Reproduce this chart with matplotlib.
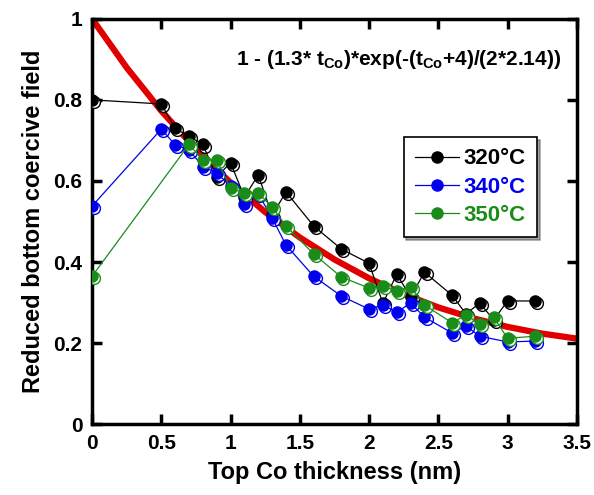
import matplotlib
matplotlib.use('Agg')
import matplotlib.pyplot as plt
from matplotlib.transforms import ScaledTranslation

plt.rcParams['font.family'] = ['Liberation Sans', 'DejaVu Sans']
plt.rcParams['font.weight'] = 'bold'
plt.rcParams['mathtext.fontset'] = 'custom'
plt.rcParams['mathtext.rm'] = 'Liberation Sans:bold'
plt.rcParams['mathtext.bf'] = 'Liberation Sans:bold'
plt.rcParams['mathtext.default'] = 'bf'

# data
t_320 = [0, 0.5, 0.6, 0.7, 0.8, 0.9, 1.0, 1.1, 1.2, 1.3, 1.4, 1.6, 1.8, 2.0, 2.1, 2.2, 2.3, 2.4, 2.6, 2.7, 2.8, 2.9, 3.0, 3.2]
h_320 = [0.80, 0.79, 0.73, 0.71, 0.69, 0.61, 0.645, 0.56, 0.615, 0.515, 0.573, 0.489, 0.432, 0.397, 0.298, 0.37, 0.314, 0.375, 0.318, 0.272, 0.299, 0.257, 0.304, 0.304]

t_340 = [0, 0.5, 0.6, 0.7, 0.8, 0.9, 1.0, 1.1, 1.2, 1.3, 1.4, 1.6, 1.8, 2.0, 2.1, 2.2, 2.3, 2.4, 2.6, 2.7, 2.8, 3.0, 3.2]
h_340 = [0.538, 0.728, 0.689, 0.677, 0.635, 0.62, 0.587, 0.544, 0.568, 0.509, 0.442, 0.365, 0.316, 0.284, 0.294, 0.276, 0.299, 0.264, 0.225, 0.242, 0.217, 0.203, 0.205]

t_350 = [0, 0.7, 0.8, 0.9, 1.0, 1.1, 1.2, 1.3, 1.4, 1.6, 1.8, 2.0, 2.1, 2.2, 2.3, 2.4, 2.6, 2.7, 2.8, 2.9, 3.0, 3.2]
h_350 = [0.365, 0.69, 0.652, 0.652, 0.582, 0.57, 0.57, 0.536, 0.489, 0.42, 0.363, 0.336, 0.34, 0.329, 0.339, 0.294, 0.25, 0.27, 0.247, 0.264, 0.212, 0.217]

# fit curve, sampled
t_fit = [0, 0.25, 0.5, 0.75, 1.0, 1.25, 1.5, 1.75, 2.0, 2.25, 2.5, 2.75, 3.0, 3.25, 3.5]
h_fit = [1.0, 0.8796, 0.7729, 0.6786, 0.5958, 0.5234, 0.4606, 0.4064, 0.3600,
         0.3209, 0.2882, 0.2615, 0.2401, 0.2235, 0.2112]

series = [('320°C', t_320, h_320, 'black'),
          ('340°C', t_340, h_340, '#0000ee'),
          ('350°C', t_350, h_350, '#1a8c1a')]

fig = plt.figure(figsize=(5.94, 4.95), dpi=100)
ax = fig.add_axes([0.155, 0.143, 0.816, 0.819])

ax.plot(t_fit, h_fit, color='#e00000', lw=4.5, zorder=1, solid_capstyle='butt')

shift = ScaledTranslation(1.5 / 72, -1.5 / 72, fig.dpi_scale_trans)
handles = []
for i, (lab, t, h, c) in enumerate(series):
    ax.plot(t, h, 'o', ms=8.5, mfc='white', mec=c, mew=1.0, zorder=3 + i,
            transform=ax.transData + shift)
    ln, = ax.plot(t, h, '-o', color=c, lw=0.9, ms=8, mfc=c, mec=c, zorder=3 + i, label=lab)
    handles.append(ln)

ax.set_xlim(0, 3.5)
ax.set_ylim(0, 1)
ax.set_xticks([0, 0.5, 1, 1.5, 2, 2.5, 3, 3.5])
ax.set_xticklabels(['0', '0.5', '1', '1.5', '2', '2.5', '3', '3.5'])
ax.set_yticks([0, 0.2, 0.4, 0.6, 0.8, 1])
ax.set_yticklabels(['0', '0.2', '0.4', '0.6', '0.8', '1'])
ax.tick_params(direction='in', length=7, width=2.5, labelsize=15,
               top=True, right=True, pad=7)
for s in ax.spines.values():
    s.set_linewidth(2.5)

ax.set_xlabel('Top Co thickness (nm)', fontsize=17, fontweight='bold', labelpad=6)
ax.set_ylabel('Reduced bottom coercive field', fontsize=17, fontweight='bold', labelpad=6)

ax.text(1.04, 0.90, r'1 - (1.3* t$_{Co}$)*exp(-(t$_{Co}$+4)/(2*2.14))',
        fontsize=15, fontweight='bold', va='center', ha='left')

leg = ax.legend(handles=handles, loc='upper left', bbox_to_anchor=(0.62, 0.735),
                fancybox=False, shadow=True, edgecolor='black', framealpha=1,
                prop={'size': 16, 'weight': 'bold'}, handlelength=2.0,
                handletextpad=0.2, borderpad=0.5, labelspacing=0.32)
leg.get_frame().set_linewidth(1.2)
for txt, (_, _, _, c) in zip(leg.get_texts(), series):
    txt.set_color(c)

fig.savefig('out.png', dpi=100)
